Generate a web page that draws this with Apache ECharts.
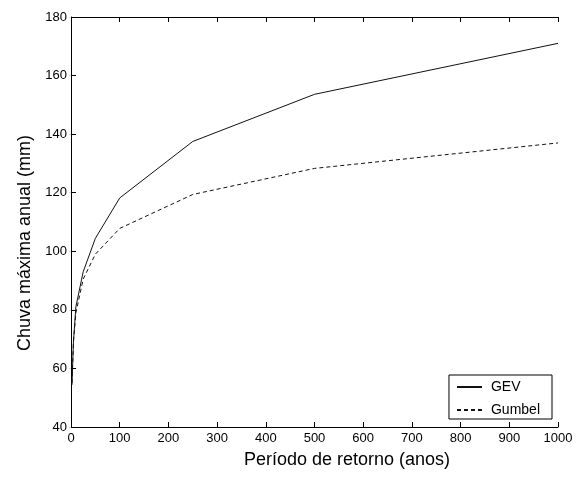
<!DOCTYPE html>
<html>
<head>
<meta charset="utf-8">
<script src="https://cdn.jsdelivr.net/npm/echarts@6/dist/echarts.min.js"></script>
<style>html,body{margin:0;padding:0;background:#fff}#c{width:576px;height:478px}</style>
</head>
<body>
<div id="c"></div>
<script>
var periods = [2, 5, 10, 25, 50, 100, 250, 500, 1000];
var gevValues = [54.4, 69, 81, 93, 104.4, 118.2, 137.5, 153.6, 171];
var gumbelValues = [55, 69, 79, 90.5, 99, 107.8, 119.4, 128.3, 137];
var xTicks = [0, 100, 200, 300, 400, 500, 600, 700, 800, 900, 1000];
var yTicks = [40, 60, 80, 100, 120, 140, 160, 180];

function pairs(xs, ys) { return xs.map(function (x, i) { return [x, ys[i]]; }); }

var tickFont = '"Liberation Sans Narrow", "Liberation Sans", Arial, sans-serif';
var titleFont = '"Liberation Sans", Arial, sans-serif';
var chart = echarts.init(document.getElementById('c'), null, { renderer: 'canvas' });
var axisLine = { show: true, lineStyle: { color: '#000', width: 1 } };
function plain(v) { return String(v); }
chart.setOption({
  animation: false,
  backgroundColor: '#fff',
  grid: { left: 71, right: 18, top: 17, bottom: 51, containLabel: false },
  xAxis: [{
    type: 'value', min: xTicks[0], max: xTicks[xTicks.length - 1], interval: 100,
    axisLine: axisLine,
    axisTick: { show: true, inside: true, length: 5, lineStyle: { color: '#000' } },
    axisLabel: { color: '#000', fontSize: 13, fontFamily: tickFont, margin: 5, formatter: plain },
    splitLine: { show: false }
  }, {
    type: 'value', position: 'top', min: xTicks[0], max: xTicks[xTicks.length - 1], interval: 100,
    axisLine: axisLine,
    axisTick: { show: true, inside: true, length: 5, lineStyle: { color: '#000' } },
    axisLabel: { show: false }, splitLine: { show: false }
  }],
  yAxis: [{
    type: 'value', min: yTicks[0], max: yTicks[yTicks.length - 1], interval: 20,
    axisLine: axisLine,
    axisTick: { show: true, inside: true, length: 5, lineStyle: { color: '#000' } },
    axisLabel: { color: '#000', fontSize: 13, fontFamily: tickFont, margin: 4, formatter: plain },
    splitLine: { show: false }
  }, {
    type: 'value', position: 'right', min: yTicks[0], max: yTicks[yTicks.length - 1], interval: 20,
    axisLine: { show: false },
    axisTick: { show: true, inside: true, length: 2, lineStyle: { color: '#ddd' } },
    axisLabel: { show: false }, splitLine: { show: false }
  }],
  legend: {
    orient: 'vertical', right: 24, bottom: 59,
    backgroundColor: '#fff', borderColor: '#000', borderWidth: 1,
    padding: [5, 12, 2, 7], itemGap: 9, itemWidth: 25, itemHeight: 14,
    itemStyle: { opacity: 0, color: 'transparent', borderWidth: 0 },
    textStyle: { color: '#000', fontSize: 14, fontFamily: tickFont, padding: [0, 0, 0, 4] },
    data: ['GEV', 'Gumbel']
  },
  graphic: [{
    type: 'text', x: 25, y: 243, rotation: Math.PI / 2,
    style: { text: 'Chuva máxima anual (mm)', x: 0, y: 0, fontSize: 18, fontFamily: titleFont, fill: '#000', align: 'center', verticalAlign: 'middle' }
  }, {
    type: 'text',
    style: { text: 'Período de retorno (anos)', x: 347, y: 460, fontSize: 18, fontFamily: titleFont, fill: '#000', align: 'center', verticalAlign: 'middle' }
  }],
  series: [{
    name: 'GEV', type: 'line', symbol: 'none', xAxisIndex: 0, yAxisIndex: 0,
    data: pairs(periods, gevValues),
    lineStyle: { color: '#111', width: 1 }, itemStyle: { color: '#111' }
  }, {
    name: 'Gumbel', type: 'line', symbol: 'none', xAxisIndex: 0, yAxisIndex: 0,
    data: pairs(periods, gumbelValues),
    lineStyle: { color: '#111', width: 1, type: [4, 3] }, itemStyle: { color: '#111' }
  }]
});
</script>
</body>
</html>
